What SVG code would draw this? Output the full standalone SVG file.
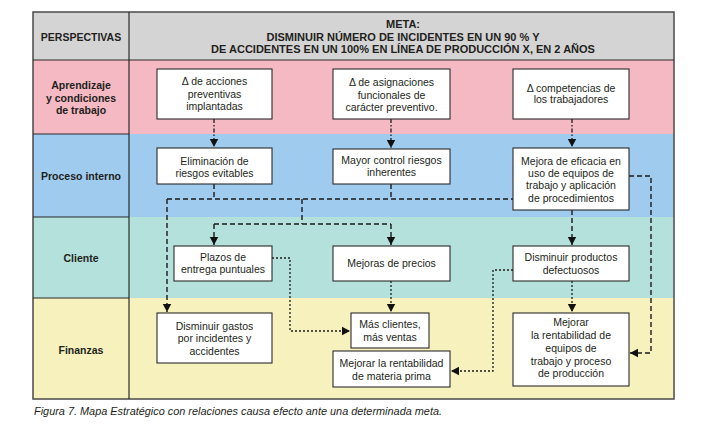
<svg xmlns="http://www.w3.org/2000/svg" width="707" height="430" viewBox="0 0 707 430">
<style>
text{font-family:"Liberation Sans",Arial,sans-serif;fill:#231f20;}
.t{font-size:10.5px;text-anchor:middle;}
.h{font-size:10.5px;font-weight:bold;text-anchor:middle;}
.m{font-size:11px;font-weight:bold;text-anchor:middle;}
.box{fill:#fff;stroke:#2b2b2b;stroke-width:1.1;}
.sep{stroke:#2b2b2b;stroke-width:1.2;fill:none;}
.dash{stroke:#1a1a1a;stroke-width:1.4;fill:none;stroke-dasharray:5 3;}
.dot{stroke:#1a1a1a;stroke-width:1.3;fill:none;stroke-dasharray:2 2;}
.dd{stroke:#1a1a1a;stroke-width:1.3;fill:none;stroke-dasharray:4 2 1.5 2;}
</style>
<defs>
<marker id="ah" markerUnits="userSpaceOnUse" markerWidth="10" markerHeight="10" viewBox="0 0 10 10" refX="9" refY="5" orient="auto">
<path d="M1,0.8 L9,5 L1,9.2 z" fill="#111"/>
</marker>
</defs>
<rect width="707" height="430" fill="#fff"/>
<g id="table">
<rect x="33" y="12" width="641" height="48" fill="#d4d4d4"/>
<rect x="33" y="60" width="641" height="74" fill="#f5b9c3"/>
<rect x="33" y="134" width="641" height="83" fill="#9fcbee"/>
<rect x="33" y="217" width="641" height="81" fill="#b4e1dc"/>
<rect x="33" y="298" width="641" height="101" fill="#f7f1bd"/>
<rect x="33" y="12" width="641" height="387" fill="none" stroke="#4a4a4a" stroke-width="1.5"/>
<line class="sep" x1="129" y1="12" x2="129" y2="399"/>
<line class="sep" x1="33" y1="60" x2="674" y2="60"/>
<line class="sep" x1="33" y1="134" x2="129" y2="134"/>
<line class="sep" x1="33" y1="217" x2="129" y2="217"/>
<line class="sep" x1="33" y1="298" x2="129" y2="298"/>
<text class="h" x="81" y="41">PERSPECTIVAS</text>
<text class="m" x="403" y="28">META:</text>
<text class="m" x="403" y="41">DISMINUIR NÚMERO DE INCIDENTES EN UN 90 % Y</text>
<text class="m" x="403" y="53">DE ACCIDENTES EN UN 100% EN LÍNEA DE PRODUCCIÓN X, EN 2 AÑOS</text>
<text class="h" x="81" y="89">Aprendizaje</text>
<text class="h" x="81" y="102">y condiciones</text>
<text class="h" x="81" y="114">de trabajo</text>
<text class="h" x="81" y="180">Proceso interno</text>
<text class="h" x="81" y="262">Cliente</text>
<text class="h" x="81" y="354">Finanzas</text>
</g>
<g id="connectors">
<path class="dd" d="M214 119 V147" marker-end="url(#ah)"/>
<path class="dd" d="M391 119 V148" marker-end="url(#ah)"/>
<path class="dd" d="M572 119 V147" marker-end="url(#ah)"/>
<path class="dash" d="M214 184 V199 M167 199 H513 M391 184 V199 M302 199 V224 M214 224 H391"/>
<path class="dash" d="M214 224 V245" marker-end="url(#ah)"/>
<path class="dash" d="M391 224 V245" marker-end="url(#ah)"/>
<path class="dash" d="M167 199 V312" marker-end="url(#ah)"/>
<path class="dash" d="M572 210 V245" marker-end="url(#ah)"/>
<path class="dash" d="M629 176 H651 V353 H630" marker-end="url(#ah)"/>
<path class="dot" d="M272 258 H290 V331 H350" marker-end="url(#ah)"/>
<path class="dot" d="M391 281 V312" marker-end="url(#ah)"/>
<path class="dot" d="M513 270 H493 V371 H451" marker-end="url(#ah)"/>
<path class="dot" d="M572 281 V312" marker-end="url(#ah)"/>
</g>
<g id="n1"><rect class="box" x="157" y="69" width="115" height="50"/>
<text class="t" x="214.5" y="85">Δ de acciones</text><text class="t" x="214.5" y="97.5">preventivas</text><text class="t" x="214.5" y="110">implantadas</text></g>
<g id="n2"><rect class="box" x="333" y="69" width="117" height="50"/>
<text class="t" x="391.5" y="86">Δ de asignaciones</text><text class="t" x="391.5" y="98.5">funcionales de</text><text class="t" x="391.5" y="111">carácter preventivo.</text></g>
<g id="n3"><rect class="box" x="513" y="69" width="116" height="50"/>
<text class="t" x="571" y="91.5">Δ competencias de</text><text class="t" x="571" y="103">los trabajadores</text></g>
<g id="n4"><rect class="box" x="157" y="148" width="115" height="36"/>
<text class="t" x="214.5" y="164.5">Eliminación de</text><text class="t" x="214.5" y="176.5">riesgos evitables</text></g>
<g id="n5"><rect class="box" x="333" y="149" width="117" height="35"/>
<text class="t" x="391.5" y="164">Mayor control riesgos</text><text class="t" x="391.5" y="176">inherentes</text></g>
<g id="n6"><rect class="box" x="513" y="148" width="116" height="62"/>
<text class="t" x="571" y="165">Mejora de eficacia en</text><text class="t" x="571" y="177">uso de equipos de</text><text class="t" x="571" y="189">trabajo y aplicación</text><text class="t" x="571" y="201.5">de procedimientos</text></g>
<g id="n7"><rect class="box" x="174" y="246" width="98" height="35"/>
<text class="t" x="223" y="261">Plazos de</text><text class="t" x="223" y="273">entrega puntuales</text></g>
<g id="n8"><rect class="box" x="333" y="246" width="117" height="35"/>
<text class="t" x="391.5" y="267">Mejoras de precios</text></g>
<g id="n9"><rect class="box" x="513" y="246" width="116" height="35"/>
<text class="t" x="571" y="261">Disminuir productos</text><text class="t" x="571" y="273.5">defectuosos</text></g>
<g id="n10"><rect class="box" x="157" y="313" width="115" height="50"/>
<text class="t" x="214.5" y="329.5">Disminuir gastos</text><text class="t" x="214.5" y="342">por incidentes y</text><text class="t" x="214.5" y="354.5">accidentes</text></g>
<g id="n11"><rect class="box" x="351" y="313" width="78" height="35"/>
<text class="t" x="390" y="328">Más clientes,</text><text class="t" x="390" y="340.5">más ventas</text></g>
<g id="n12"><rect class="box" x="333" y="351" width="117" height="36"/>
<text class="t" x="391.5" y="366.5">Mejorar la rentabilidad</text><text class="t" x="391.5" y="379.5">de materia prima</text></g>
<g id="n13"><rect class="box" x="513" y="313" width="116" height="73"/>
<text class="t" x="571" y="326">Mejorar</text><text class="t" x="571" y="338.5">la rentabilidad de</text><text class="t" x="571" y="352">equipos de</text><text class="t" x="571" y="364.5">trabajo y proceso</text><text class="t" x="571" y="377">de producción</text></g>
<text x="34" y="415" style="font-size:10.9px;font-style:italic">Figura 7. Mapa Estratégico con relaciones causa efecto ante una determinada meta.</text>
</svg>
